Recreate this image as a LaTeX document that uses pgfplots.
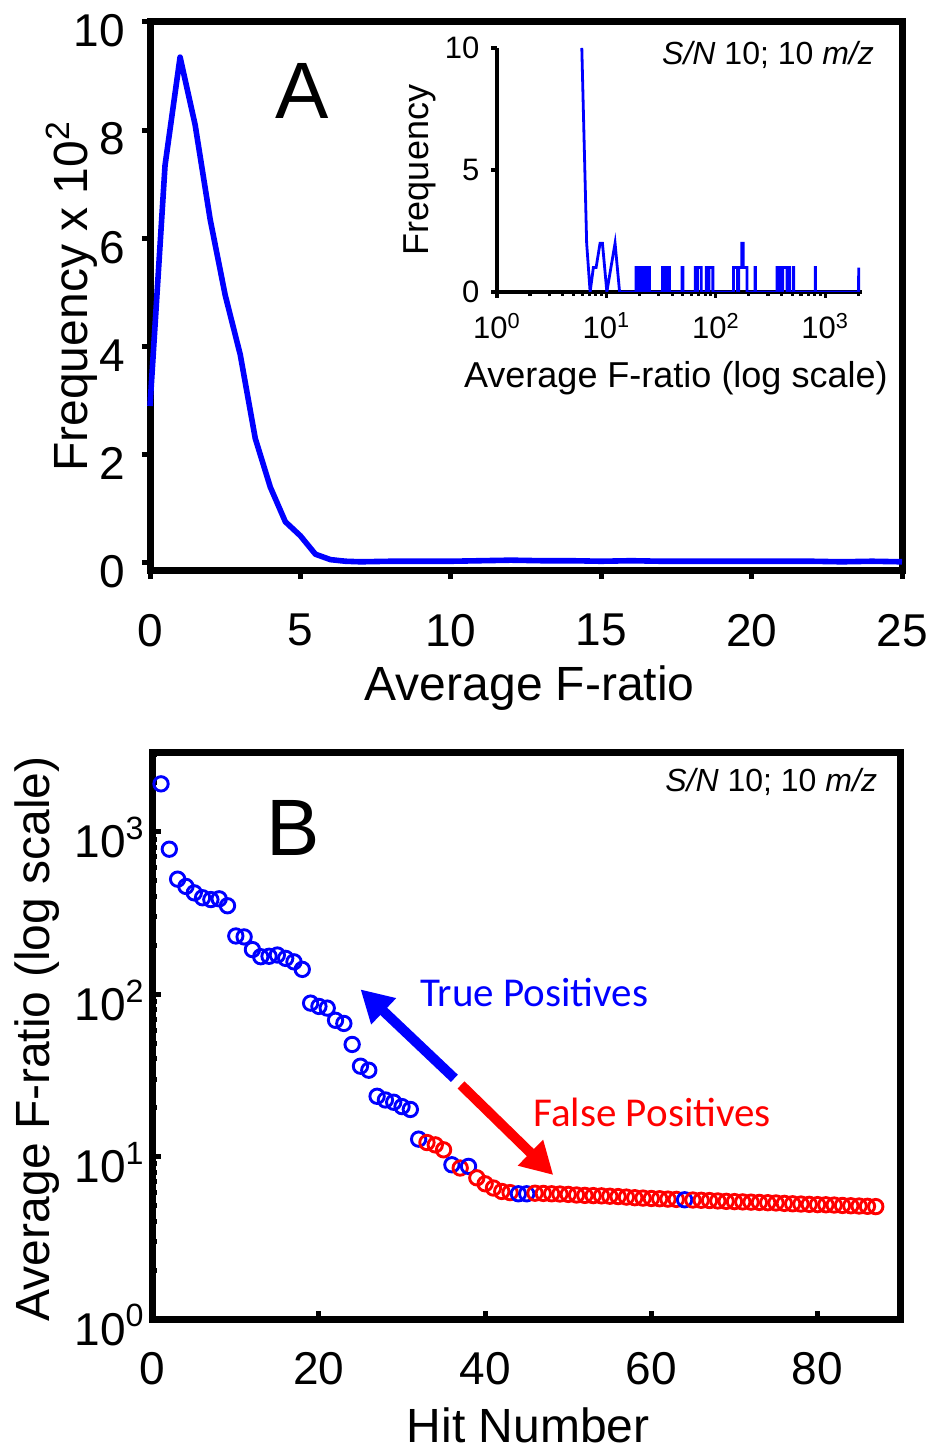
\documentclass[border=0pt]{standalone}
\usepackage{fontspec}
\setmainfont{Liberation Sans}
\newfontfamily\calibri{Carlito}
\usepackage{pgfplots}
\pgfplotsset{compat=1.18}
\usetikzlibrary{arrows.meta}
\definecolor{mblue}{RGB}{0,0,255}
\definecolor{mred}{RGB}{255,0,0}
\newcommand{\fs}[1]{\fontsize{#1}{1.2\dimexpr#1\relax}\selectfont}

\begin{document}
\begin{tikzpicture}
\path[use as bounding box] (0,0) rectangle (467pt,725pt);

% ---------- panel A ----------
\begin{axis}[
    at={(75pt,439.5pt)}, anchor=south west,
    scale only axis, width=376pt, height=274.5pt,
    xmin=0, xmax=25, ymin=-0.15, ymax=10,
    xtick={0,5,...,25}, ytick={0,2,...,10},
    tick align=outside, xtick pos=bottom, ytick pos=left,
    major tick length=4pt,
    every tick/.style={black, line width=2.5pt},
    axis line style={line width=3.5pt},
    /pgf/number format/assume math mode=true,
    tick label style={font=\fs{23pt}},
    xticklabel shift=14pt, yticklabel shift=5pt,
    yticklabel style={yshift=-4.5pt},
    label style={font=\fs{24pt}},
    xlabel={Average F-ratio},
    ylabel={Frequency x 10\textsuperscript{2}},
    xlabel style={at={(axis description cs:0.505,-0.213)}, anchor=center},
    ylabel style={at={(axis description cs:-0.104,0.5)}, anchor=center},
    clip=false,
]
\addplot[mblue, line width=2.8pt, line join=round] coordinates {
    (0,2.9) (0.5,7.35) (1.0,9.35) (1.5,8.1) (2.0,6.35) (2.5,4.95) (3.0,3.85)
    (3.5,2.3) (4.0,1.4) (4.5,0.76) (5.0,0.5) (5.5,0.16) (6.0,0.06) (6.5,0.03)
    (7,0.02) (8,0.03) (9,0.03) (10,0.03) (11,0.04) (12,0.05) (13,0.04)
    (14,0.04) (15,0.03) (16,0.04) (17,0.03) (18,0.03) (19,0.03) (20,0.03)
    (21,0.03) (22,0.03) (23,0.02) (24,0.03) (25,0.02)
};
\node[font=\fs{40pt}] at (axis cs:5.07,8.72) {A};
\node[font=\fs{16pt}, anchor=east] at (axis cs:24.3,9.39) {\textit{S/N} 10; 10 \textit{m/z}};
\end{axis}

% ---------- inset ----------
\begin{axis}[
    at={(248.5pt,579pt)}, anchor=south west,
    scale only axis, width=182.5pt, height=122pt,
    xmode=log, xmin=1, xmax=2170, ymin=0, ymax=10,
    axis lines=left, axis line style={-, line width=2pt},
    xtick={1,10,100,1000},
    xticklabels={10\textsuperscript{0},10\textsuperscript{1},10\textsuperscript{2},10\textsuperscript{3}},
    minor xtick={2,3,4,5,6,7,8,9,20,30,40,50,60,70,80,90,200,300,400,500,600,700,800,900,2000},
    ytick={0,5,10},
    tick align=outside,
    major tick length=3pt, minor tick length=2pt,
    every tick/.style={black, line width=1.6pt},
    /pgf/number format/assume math mode=true,
    tick label style={font=\fs{15.5pt}},
    xticklabel shift=4pt, yticklabel shift=2.3pt,
    label style={font=\fs{18pt}},
    xlabel={Average F-ratio (log scale)},
    ylabel={Frequency},
    xlabel style={at={(axis description cs:0.49,-0.352)}, anchor=center},
    ylabel style={at={(axis description cs:-0.211,0.5)}, anchor=center},
]
\addplot[mblue, line width=1.4pt] coordinates {
    (5.96,10) (6.6,2) (7.1,0) (7.6,1) (8.05,1) (8.75,2) (9.2,2) (10.1,0)
    (11.0,1) (12.0,2) (13.2,0)
    (18.7,0) (18.7,1) (19.7,1) (19.7,0) (20.0,0) (20.0,1) (21.0,1) (21.0,0)
    (21.3,0) (21.3,1) (22.3,1) (22.3,0) (22.6,0) (22.6,1) (23.6,1) (23.6,0)
    (23.8,0) (23.8,1) (24.7,1) (24.7,0)
    (32.5,0) (32.5,1) (34.5,1) (34.5,0) (35.5,0) (35.5,1) (37.7,1) (37.7,0)
    (49.1,0) (49.1,1) (50.1,1) (50.1,0)
    (64.8,0) (64.8,1) (67,1) (67,0) (68,0) (68,1) (73.5,1) (73.5,0)
    (81.7,0) (81.7,1) (85,1) (85,0) (86.5,0) (86.5,1) (94,1) (94,0)
    (145,0) (145,1) (158,1) (158,0) (162,0) (162,1) (173,1) (173,2) (178,2)
    (178,1) (193,1) (193,0)
    (228,0) (228,1) (230,1) (230,0)
    (362,0) (362,1) (380,1) (380,0) (385,0) (385,1) (400,1) (400,0) (410,0)
    (410,1) (447,1) (447,0)
    (471,0) (471,1) (473,1) (473,0) (513,0) (513,1) (515,1) (515,0)
    (810,0) (810,1) (814,1) (814,0)
    (2020,0) (2023,1)
};
\end{axis}

% ---------- panel B ----------
\begin{axis}[
    at={(76.35pt,65.5pt)}, anchor=south west,
    scale only axis, width=374pt, height=283pt,
    ymode=log, xmin=0, xmax=90, ymin=1, ymax=3050,
    xtick={0,20,...,80},
    ytick={1,10,100,1000},
    yticklabels={10\textsuperscript{0},10\textsuperscript{1},10\textsuperscript{2},10\textsuperscript{3}},
    minor ytick={2,3,4,5,6,7,8,9,20,30,40,50,60,70,80,90,200,300,400,500,600,700,800,900,2000,3000},
    tick align=inside, xtick pos=bottom, ytick pos=left,
    major tick length=4pt, minor tick length=2pt,
    every tick/.style={black, line width=2.5pt},
    axis line style={line width=3.5pt},
    /pgf/number format/assume math mode=true,
    tick label style={font=\fs{23pt}},
    xticklabel shift=13pt, yticklabel shift=0.5pt,
    yticklabel style={yshift=-3pt},
    label style={font=\fs{24pt}},
    xlabel={Hit Number},
    ylabel={Average F-ratio (log scale)},
    xlabel style={at={(axis description cs:0.502,-0.187)}, anchor=center},
    ylabel style={at={(axis description cs:-0.155,0.495)}, anchor=center},
]
\addplot[scatter, only marks, scatter src=explicit symbolic,
    scatter/classes={
        t={mark=o, draw=mblue, line width=1.45pt, mark size=3.6pt},
        f={mark=o, draw=mred, line width=1.45pt, mark size=3.6pt}}]
table[meta=c] {
x y c
1 1970 t
2 780 t
3 510 t
4 460 t
5 420 t
6 392 t
7 382 t
8 386 t
9 350 t
10 228 t
11 225 t
12 188 t
13 170 t
14 171 t
15 174 t
16 166 t
17 158 t
18 142 t
19 88 t
20 84 t
21 82 t
22 69 t
23 66 t
24 49 t
25 36 t
26 34 t
27 23.5 t
28 22.3 t
29 21.6 t
30 20.3 t
31 19.5 t
32 12.8 t
33 12.2 f
34 11.8 f
35 11.0 f
36 8.9 t
37 8.5 f
38 8.7 t
39 7.4 f
40 6.8 f
41 6.4 f
42 6.1 f
43 6.0 f
44 5.9 t
45 5.9 t
46 5.95 f
47 5.93 f
48 5.90 f
49 5.88 f
50 5.85 f
51 5.80 f
52 5.77 f
53 5.75 f
54 5.73 f
55 5.70 f
56 5.67 f
57 5.63 f
58 5.58 f
59 5.55 f
60 5.52 f
61 5.50 f
62 5.47 f
63 5.45 f
64 5.42 t
65 5.40 f
66 5.38 f
67 5.36 f
68 5.33 f
69 5.30 f
70 5.28 f
71 5.26 f
72 5.24 f
73 5.22 f
74 5.20 f
75 5.18 f
76 5.15 f
77 5.12 f
78 5.10 f
79 5.08 f
80 5.06 f
81 5.05 f
82 5.03 f
83 5.00 f
84 4.98 f
85 4.96 f
86 4.94 f
87 4.92 f
};
\draw[mblue, line width=5pt, -{Triangle[length=16pt,width=17pt]}]
    (axis cs:36.3,30.3) -- (axis cs:25,107);
\draw[mred, line width=5pt, -{Triangle[length=16pt,width=17pt]}]
    (axis cs:37.1,27.6) -- (axis cs:48.2,7.7);
\node[font=\calibri\fs{20.5pt}, text=mblue] at (axis cs:45.9,103) {True Positives};
\node[font=\calibri\fs{20.5pt}, text=mred] at (axis cs:60.1,18.8) {False Positives};
\node[font=\fs{40pt}] at (axis cs:16.9,1055) {B};
\node[font=\fs{16pt}, anchor=east] at (axis cs:88,2027) {\textit{S/N} 10; 10 \textit{m/z}};
\end{axis}
\end{tikzpicture}
\end{document}
